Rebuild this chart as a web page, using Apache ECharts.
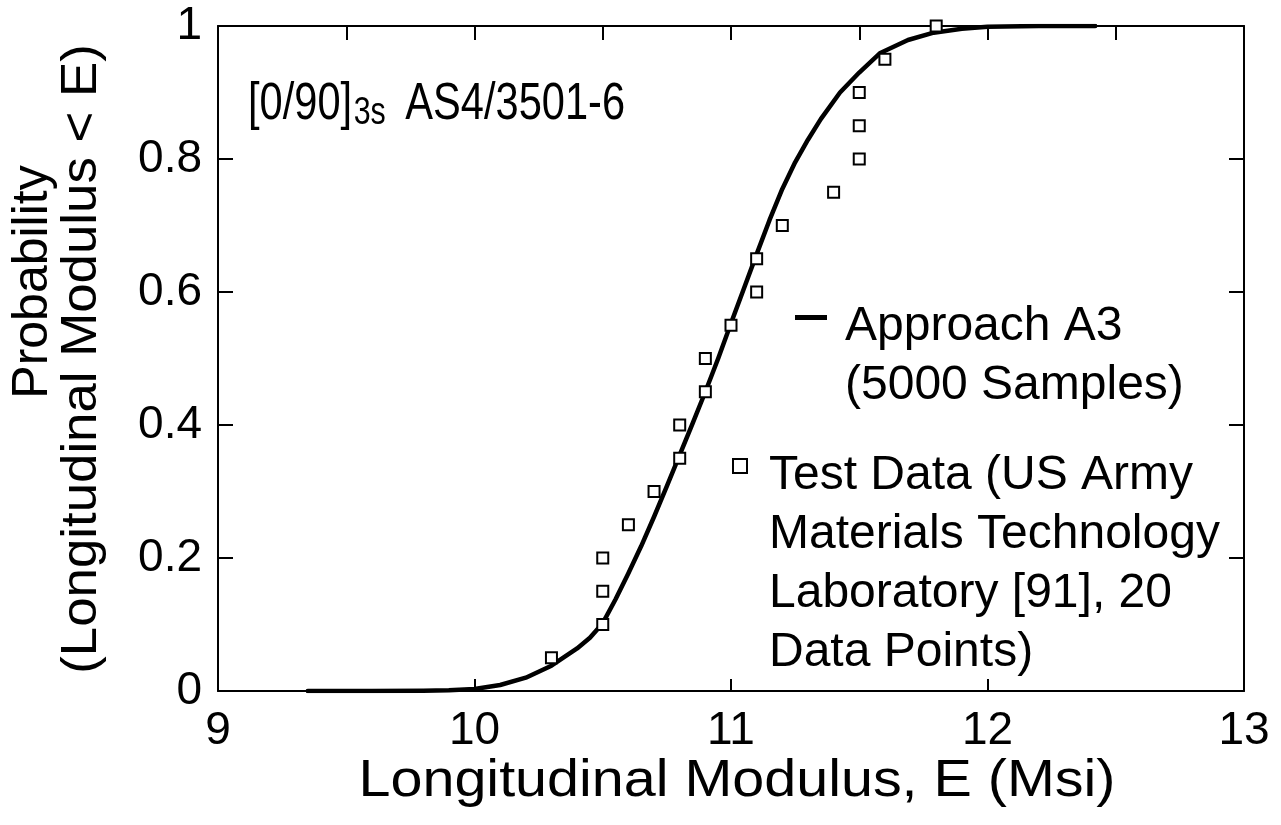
<!DOCTYPE html>
<html>
<head>
<meta charset="utf-8">
<script src="https://cdn.jsdelivr.net/npm/echarts@6/dist/echarts.min.js"></script>
<style>
  html, body { margin: 0; padding: 0; background: #fff; }
  #chart { width: 1281px; height: 825px; }
</style>
</head>
<body>
<div id="chart"></div>
<script>
// Simulated cumulative distribution (Approach A3, 5000 samples)
const curveModulus = [9.35, 9.6, 9.8, 9.9, 10.0, 10.1, 10.2, 10.3, 10.4, 10.45, 10.5, 10.55, 10.6, 10.65, 10.7,
  10.75, 10.8, 10.85, 10.9, 10.95, 11.0, 11.05, 11.1, 11.15, 11.2, 11.25, 11.3, 11.35, 11.425, 11.5,
  11.58, 11.69, 11.79, 11.9, 12.0, 12.2, 12.42];
const curveProbability = [0, 0, 0.0005, 0.0012, 0.003, 0.009, 0.02, 0.038, 0.064, 0.08, 0.102, 0.138, 0.177, 0.218, 0.262,
  0.308, 0.355, 0.402, 0.45, 0.5, 0.553, 0.605, 0.657, 0.708, 0.755, 0.795, 0.829, 0.86, 0.9, 0.93,
  0.959, 0.979, 0.99, 0.996, 0.999, 1.0, 1.0];

// Test data: 20 specimens, ranked
const testModulus = [10.3, 10.5, 10.5, 10.5, 10.6, 10.7, 10.8, 10.8, 10.9, 10.9,
  11.0, 11.1, 11.1, 11.2, 11.4, 11.5, 11.5, 11.5, 11.6, 11.8];
const testProbability = [0.05, 0.10, 0.15, 0.20, 0.25, 0.30, 0.35, 0.40, 0.45, 0.50,
  0.55, 0.60, 0.65, 0.70, 0.75, 0.80, 0.85, 0.90, 0.95, 1.00];

const xTicks = [9, 10, 11, 12, 13];
const yTicks = [0, 0.2, 0.4, 0.6, 0.8, 1];

const curveName = 'Approach A3\n(5000 Samples)';
const testName = 'Test Data (US Army\nMaterials Technology\nLaboratory [91], 20\nData Points)';

const FONT = '"Liberation Sans", Arial, Helvetica, sans-serif';

const chart = echarts.init(document.getElementById('chart'), null, { renderer: 'canvas' });

const axisLine = { show: true, onZero: false, lineStyle: { color: '#000', width: 2 } };
const tickStyle = { color: '#000', width: 2 };

// Legend text hangs below its key: a blank spacer line on top pushes the first line down to the icon
const hangBelow = (name) => '{b|\u00a0}\n{t|' + name + '}';
const legendText = (spacer) => ({
  color: '#000', fontFamily: FONT, fontSize: 48, lineHeight: 59,
  rich: {
    b: { fontSize: 10, lineHeight: spacer },
    t: { fontSize: 48, lineHeight: 59, fontFamily: FONT, color: '#000' }
  }
});

chart.setOption({
  animation: false,
  backgroundColor: '#fff',
  grid: { left: 218, right: 37, top: 26, bottom: 134, containLabel: false },
  xAxis: [
    {
      type: 'value', position: 'bottom',
      min: xTicks[0], max: xTicks[xTicks.length - 1], interval: 1,
      axisLine,
      axisTick: { show: true, inside: true, length: 12, lineStyle: tickStyle },
      axisLabel: { margin: 17, fontSize: 46, color: '#000', fontFamily: FONT },
      splitLine: { show: false }
    },
    {
      type: 'value', position: 'top',
      min: xTicks[0], max: xTicks[xTicks.length - 1], interval: 0.5,
      axisLine,
      axisTick: { show: true, inside: true, length: 14, lineStyle: tickStyle },
      axisLabel: { show: false },
      splitLine: { show: false }
    }
  ],
  yAxis: [
    {
      type: 'value', position: 'left',
      min: yTicks[0], max: yTicks[yTicks.length - 1], interval: 0.2,
      axisLine,
      axisTick: { show: true, inside: true, length: 15, lineStyle: tickStyle },
      axisLabel: { margin: 16, fontSize: 46, color: '#000', fontFamily: FONT },
      splitLine: { show: false }
    },
    {
      type: 'value', position: 'right',
      min: yTicks[0], max: yTicks[yTicks.length - 1], interval: 0.2,
      axisLine,
      axisTick: { show: true, inside: true, length: 15, lineStyle: tickStyle },
      axisLabel: { show: false },
      splitLine: { show: false }
    }
  ],
  legend: [
    {
      data: [{ name: curveName, icon: 'rect' }],
      left: 795, top: 220, padding: 0,
      itemWidth: 32, itemHeight: 5,
      selectedMode: false,
      formatter: hangBelow,
      textStyle: Object.assign(legendText(77), { padding: [0, 0, 0, 13] })
    },
    {
      data: [{ name: testName, icon: 'rect' }],
      left: 732, top: 249.5, padding: 0,
      itemWidth: 14, itemHeight: 14,
      selectedMode: false,
      formatter: hangBelow,
      itemStyle: { color: '#fff', borderColor: '#000', borderWidth: 2 },
      textStyle: Object.assign(legendText(197), { padding: [0, 0, 0, 17] })
    }
  ],
  graphic: [
    {
      // laminate label with subscripted stacking sequence
      type: 'text', x: 248, y: 77, scaleX: 0.8,
      style: {
        text: '{m|[0/90]}{s|3s}{m| AS4/3501-6}',
        fill: '#000',
        fontFamily: FONT,
        verticalAlign: 'top',
        rich: {
          m: { fontSize: 52, lineHeight: 56, fontFamily: FONT, fill: '#000' },
          s: { fontSize: 38, lineHeight: 38, verticalAlign: 'bottom', padding: [0, 10, 0, 2], fontFamily: FONT, fill: '#000' }
        }
      }
    },
    {
      // x-axis title
      type: 'text', x: 737, y: 756, scaleX: 1.105,
      style: { text: 'Longitudinal Modulus, E (Msi)', fontSize: 52, fontFamily: FONT, fill: '#000', align: 'center', verticalAlign: 'top' }
    },
    {
      // y-axis title, two rotated lines
      type: 'text', x: 33, y: 282, rotation: Math.PI / 2,
      style: { text: 'Probability', fontSize: 50, fontFamily: FONT, fill: '#000', align: 'center', verticalAlign: 'middle' }
    },
    {
      type: 'text', x: 82, y: 359, rotation: Math.PI / 2, scaleX: 1.056,
      style: { text: '(Longitudinal Modulus < E)', fontSize: 50, fontFamily: FONT, fill: '#000', align: 'center', verticalAlign: 'middle' }
    }
  ],
  series: [
    {
      name: curveName,
      type: 'line',
      xAxisIndex: 0, yAxisIndex: 0,
      data: curveModulus.map((x, i) => [x, curveProbability[i]]),
      showSymbol: false,
      smooth: false,
      color: '#000',
      lineStyle: { color: '#000', width: 4.5, join: 'round', cap: 'round' },
      z: 2
    },
    {
      name: testName,
      type: 'scatter',
      xAxisIndex: 0, yAxisIndex: 0,
      data: testModulus.map((x, i) => [x, testProbability[i]]),
      symbol: 'rect',
      symbolSize: 11,
      itemStyle: { color: '#fff', borderColor: '#000', borderWidth: 2, opacity: 1 },
      z: 3
    }
  ]
});
</script>
</body>
</html>
